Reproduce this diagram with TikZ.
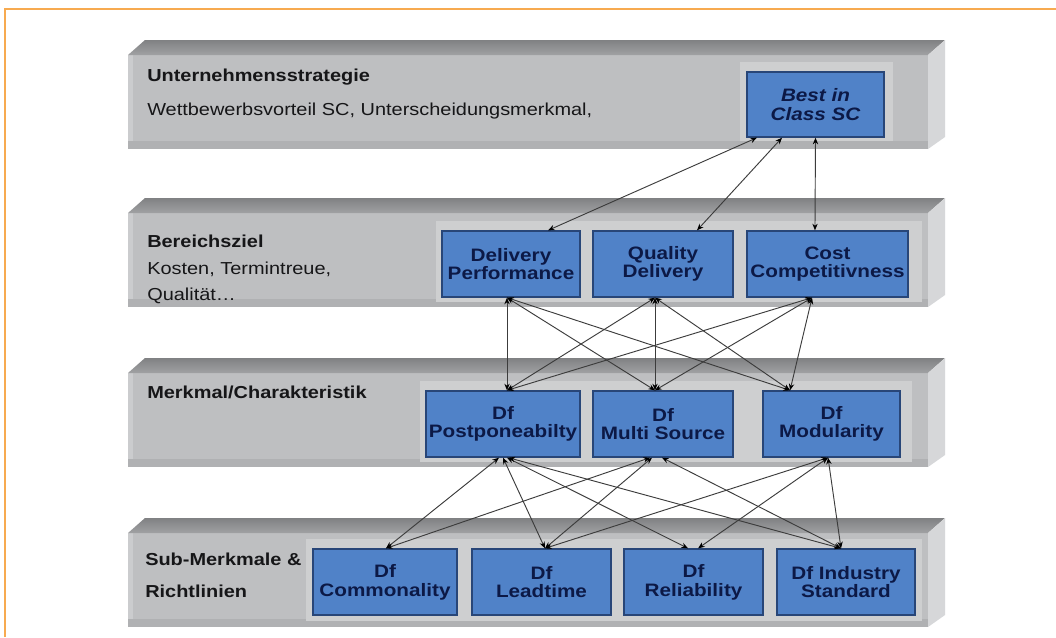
\documentclass[tikz,border=0pt]{standalone}
\usepackage{fontspec}
\setmainfont{Liberation Sans}[FakeStretch=1.15]
\usetikzlibrary{arrows.meta}
\definecolor{orangeline}{RGB}{247,170,80}
\definecolor{topface}{RGB}{128,129,131}
\definecolor{topfaceb}{RGB}{160,161,163}
\definecolor{frontface}{RGB}{190,191,193}
\definecolor{sideface}{RGB}{214,215,217}
\definecolor{panel}{RGB}{206,207,208}
\definecolor{shadowband}{RGB}{176,177,179}
\definecolor{boxblue}{RGB}{80,130,200}
\definecolor{boxborder}{RGB}{40,70,120}
\definecolor{boxtext}{RGB}{12,25,70}
\definecolor{labeltext}{RGB}{22,22,24}
\definecolor{linkline}{RGB}{60,60,60}
\newcommand{\mkslab}[1]{%
  \fill[frontface] (128,#1+15) rectangle (928,#1+109);
  \fill[shadowband] (128,#1+101) rectangle (928,#1+109);
  \fill[frontface!80!white] (128,#1+15) rectangle (133,#1+101);
  \shade[top color=topface, bottom color=topfaceb] (128,#1+15) -- (145,#1) -- (945,#1) -- (928,#1+15) -- cycle;
  \fill[sideface] (928,#1+15) -- (945,#1) -- (945,#1+97) -- (928,#1+109) -- cycle;
}
\tikzset{
  kbox/.style={draw=boxborder, line width=1pt, fill=boxblue, text=boxtext,
    font=\fontsize{13.5}{14}\selectfont\bfseries, align=center, inner sep=0pt,
    minimum height=49.5pt},
  lbl/.style={anchor=base west, text=labeltext, inner sep=0pt,
    font=\fontsize{13}{14}\selectfont\bfseries},
  sublbl/.style={anchor=base west, text=labeltext, inner sep=0pt,
    font=\fontsize{13}{14}\selectfont},
  link/.style={draw=linkline, line width=0.7pt,
    {Stealth[length=5pt,width=4pt,black]}-{Stealth[length=5pt,width=4pt,black]}},
}
\begin{document}
\begin{tikzpicture}[x=0.75pt,y=-0.75pt]
\fill[white] (0,0) rectangle (1056,637);
\useasboundingbox (0,0) rectangle (1056,637);
\draw[orangeline, line width=2pt] (5,637) -- (5,9) -- (1056,9);

% slabs
\mkslab{40}
\mkslab{198}
\mkslab{358}
\mkslab{518}

% lighter panels behind boxes
\fill[panel] (740,62) rectangle (893,141);
\fill[panel] (436,221) rectangle (922,302);
\fill[panel] (420,381) rectangle (912,462);
\fill[panel] (306,539) rectangle (922,621);

% left labels
\node[lbl] (l1) at (147,81) {Unternehmensstrategie};
\node[sublbl] (l1b) at (147,115) {Wettbewerbsvorteil SC, Unterscheidungsmerkmal,};
\node[lbl] (l2) at (147,247) {Bereichsziel};
\node[sublbl] (l2b) at (147,274) {Kosten, Termintreue,};
\node[sublbl] (l2c) at (147,300) {Qualität…};
\node[lbl] (l3) at (147,398) {Merkmal/Charakteristik};
\node[lbl] (l4) at (145,565) {Sub-Merkmale \&};
\node[lbl] (l4b) at (145,597) {Richtlinien};

% boxes
\node[kbox, minimum width=102.75pt, minimum height=48.75pt] (best) at (815.5,104.5) {\itshape Best in\\\itshape Class SC};

\node[kbox, minimum width=103.5pt] (dp) at (511,264) {Delivery\\Performance};
\node[kbox, minimum width=105pt] (qd) at (663,264) {Quality\\Delivery};
\node[kbox, minimum width=120.75pt] (cost) at (827.5,264) {Cost\\Competitivness};

\node[kbox, minimum width=115.5pt] (post) at (503,424) {Df\\Postponeabilty};
\node[kbox, minimum width=105pt] (ms) at (663,424) {Df\\Multi Source};
\node[kbox, minimum width=102.75pt] (mod) at (831.5,424) {Df\\Modularity};

\node[kbox, minimum width=108pt] (com) at (385,582) {Df\\Commonality};
\node[kbox, minimum width=104.25pt] (lead) at (541.5,582) {Df\\Leadtime};
\node[kbox, minimum width=104.25pt] (rel) at (693.5,582) {Df\\Reliability};
\node[kbox, minimum width=103.5pt] (ind) at (846,582) {Df Industry\\Standard};

% level 1 - 2
\draw[link] ([xshift=-43.9pt]best.south) -- ([xshift=27.75pt]dp.north);
\draw[link] ([xshift=-25.1pt]best.south) -- ([xshift=25.5pt]qd.north);
\draw[link] ([xshift=0pt]best.south) -- ([xshift=-9.4pt]cost.north);

% level 2 - 3
\draw[link] ([xshift=-3pt]dp.south) -- ([xshift=3pt]post.north);
\draw[link] ([xshift=-3pt]dp.south) -- ([xshift=-6pt]ms.north);
\draw[link] ([xshift=-3pt]dp.south) -- ([xshift=-31.1pt]mod.north);
\draw[link] ([xshift=-6pt]qd.south) -- ([xshift=3pt]post.north);
\draw[link] ([xshift=-6pt]qd.south) -- ([xshift=-6pt]ms.north);
\draw[link] ([xshift=-6pt]qd.south) -- ([xshift=-31.1pt]mod.north);
\draw[link] ([xshift=-11.6pt]cost.south) -- ([xshift=3pt]post.north);
\draw[link] ([xshift=-11.6pt]cost.south) -- ([xshift=-6pt]ms.north);
\draw[link] ([xshift=-11.6pt]cost.south) -- ([xshift=-31.1pt]mod.north);

% level 3 - 4
\draw[link] ([xshift=-3pt]post.south) -- ([xshift=0.75pt]com.north);
\draw[link] ([xshift=0pt]post.south) -- ([xshift=2.6pt]lead.north);
\draw[link] ([xshift=3pt]post.south) -- ([xshift=-4.1pt]rel.north);
\draw[link] ([xshift=4pt]post.south) -- ([xshift=-3.75pt]ind.north);
\draw[link] ([xshift=-9.75pt]ms.south) -- ([xshift=0.75pt]com.north);
\draw[link] ([xshift=-8.25pt]ms.south) -- ([xshift=2.6pt]lead.north);
\draw[link] ([xshift=-0.75pt]ms.south) -- ([xshift=-3.75pt]ind.north);
\draw[link] ([xshift=-2.6pt]mod.south) -- ([xshift=2.6pt]lead.north);
\draw[link] ([xshift=-2.6pt]mod.south) -- ([xshift=3.4pt]rel.north);
\draw[link] ([xshift=-2.6pt]mod.south) -- ([xshift=-3.75pt]ind.north);
\end{tikzpicture}
\end{document}
